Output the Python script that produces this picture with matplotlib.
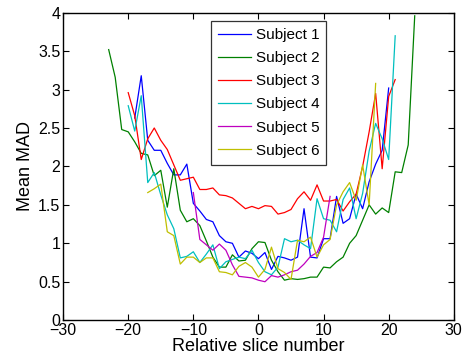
"""Mean MAD per relative slice number for six subjects (MATLAB-style line plot)."""

import matplotlib
matplotlib.use("Agg")
import matplotlib.pyplot as plt

plt.rcParams["font.family"] = ["Liberation Sans", "DejaVu Sans"]
plt.rcParams["font.size"] = 11

# slice ranges per subject
x_s1 = list(range(-19, 21))
x_s2 = list(range(-23, 25))
x_s3 = list(range(-20, 22))
x_s4 = list(range(-20, 22))
x_s5 = list(range(-10, 12))
x_s6 = list(range(-17, 19))

mad_s1 = [2.63, 3.18, 2.34, 2.21, 2.21, 2.04, 1.89, 1.89, 2.03, 1.52,
          1.42, 1.31, 1.28, 1.10, 1.02, 1.00, 0.82, 0.90, 0.87, 0.80,
          0.88, 0.66, 0.83, 0.81, 0.78, 0.82, 1.45, 0.82, 0.81, 1.06,
          1.06, 1.61, 1.26, 1.32, 1.64, 1.45, 1.80, 2.03, 2.21, 3.02]
mad_s2 = [3.52, 3.16, 2.48, 2.45, 2.32, 2.17, 2.15, 1.88, 1.95, 1.47,
          1.97, 1.43, 1.28, 1.32, 1.23, 1.03, 0.82, 0.69, 0.69, 0.85,
          0.77, 0.78, 0.93, 1.02, 1.01, 0.78, 0.63, 0.52, 0.54, 0.53,
          0.54, 0.56, 0.56, 0.69, 0.68, 0.76, 0.82, 1.00, 1.10, 1.30,
          1.50, 1.38, 1.46, 1.40, 1.93, 1.92, 2.28, 3.96]
mad_s3 = [2.96, 2.66, 2.09, 2.36, 2.50, 2.34, 2.22, 2.02, 1.82, 1.84,
          1.86, 1.70, 1.70, 1.72, 1.63, 1.62, 1.59, 1.52, 1.45, 1.48,
          1.45, 1.49, 1.48, 1.38, 1.40, 1.44, 1.58, 1.67, 1.56, 1.76,
          1.55, 1.55, 1.57, 1.42, 1.54, 1.64, 2.00, 2.45, 2.95, 1.97,
          2.91, 3.13]
mad_s4 = [2.79, 2.46, 2.92, 1.79, 1.92, 1.63, 1.37, 1.19, 0.81, 0.83,
          0.89, 0.75, 0.86, 0.98, 0.67, 0.76, 0.79, 0.82, 0.80, 0.91,
          0.75, 0.63, 0.59, 0.69, 1.06, 1.02, 1.04, 0.98, 0.93, 1.58,
          1.32, 1.30, 1.15, 1.57, 1.72, 1.32, 1.65, 2.20, 2.56, 2.36,
          2.09, 3.70]
mad_s5 = [1.66, 1.05, 0.98, 0.91, 0.99, 0.91, 0.72, 0.57, 0.56, 0.55,
          0.52, 0.50, 0.58, 0.56, 0.59, 0.63, 0.65, 0.73, 0.83, 0.88,
          1.08, 1.61]
mad_s6 = [1.66, 1.71, 1.77, 1.15, 1.10, 0.73, 0.82, 0.82, 0.75, 0.81,
          0.81, 0.63, 0.62, 0.59, 0.70, 0.75, 0.69, 0.56, 0.66, 0.95,
          0.67, 0.62, 0.53, 1.04, 1.02, 1.08, 0.82, 0.98, 1.05, 1.50,
          1.67, 1.79, 1.56, 2.02, 1.50, 3.08]

labels = ["Subject 1", "Subject 2", "Subject 3", "Subject 4", "Subject 5", "Subject 6"]
colors = ["#0000ff", "#008000", "#ff0000", "#00bfbf", "#bf00bf", "#bfbf00"]

xticks = [-30, -20, -10, 0, 10, 20, 30]
yticks = [0, 0.5, 1, 1.5, 2, 2.5, 3, 3.5, 4]


def fmt(v):
    s = f"{v:g}"
    return s.replace("-", "\u2212")


fig = plt.figure(figsize=(4.64, 3.63), dpi=100, facecolor="white")
ax = fig.add_axes([0.136, 0.118, 0.842, 0.847])

series = [(x_s1, mad_s1), (x_s2, mad_s2), (x_s3, mad_s3),
          (x_s4, mad_s4), (x_s5, mad_s5), (x_s6, mad_s6)]
for (xs, ys), lab, c in zip(series, labels, colors):
    ax.plot(xs, ys, color=c, lw=0.9, label=lab)

ax.set_xlim(-30, 30)
ax.set_ylim(0, 4)
ax.set_xticks(xticks)
ax.set_xticklabels([fmt(v) for v in xticks])
ax.set_yticks(yticks)
ax.set_yticklabels([fmt(v) for v in yticks])
ax.tick_params(direction="in", length=4, width=0.8, top=True, right=True,
               labelsize=11.5, pad=2)
for sp in ax.spines.values():
    sp.set_linewidth(1.0)

ax.set_xlabel("Relative slice number", fontsize=13, labelpad=0)
ax.set_ylabel("Mean MAD", fontsize=13, labelpad=3)

leg = ax.legend(loc="upper left", bbox_to_anchor=(0.378, 0.973), borderaxespad=0,
                fontsize=11, frameon=True, fancybox=False, handlelength=2.2,
                handletextpad=0.3, labelspacing=0.6, borderpad=0.45)
leg.get_frame().set_edgecolor("black")
leg.get_frame().set_linewidth(0.9)

fig.savefig("out.png", dpi=100, facecolor="white")
plt.close(fig)
